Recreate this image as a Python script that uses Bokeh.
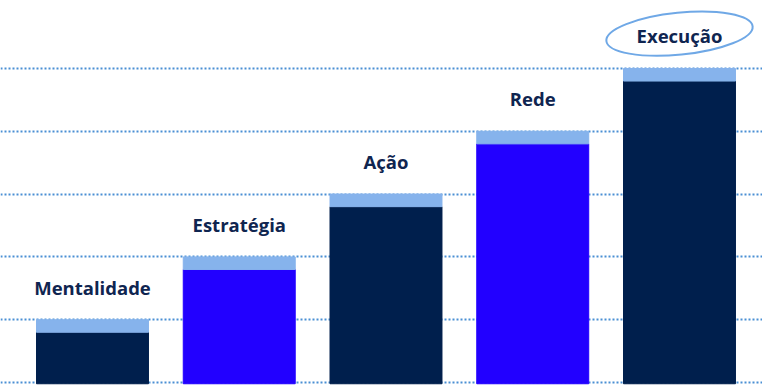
from bokeh.plotting import figure
from bokeh.models import ColumnDataSource, FixedTicker, Range1d
from bokeh.embed import file_html
from bokeh.resources import INLINE
from bokeh.core.properties import value

categories = ["Mentalidade", "Estratégia", "Ação", "Rede", "Execução"]
base_values = [0.8, 1.8, 2.8, 3.8, 4.8]
cap_values = [0.2, 0.2, 0.2, 0.2, 0.2]
bar_colors = ["#001f4d", "#2200ff", "#001f4d", "#2200ff", "#001f4d"]
grid_ticks = [0, 1, 2, 3, 4, 5]
highlight = "Execução"

xs = list(range(len(categories)))
totals = [b + c for b, c in zip(base_values, cap_values)]

src = ColumnDataSource(dict(
    x=xs, base=base_values, total=totals, color=bar_colors,
    label=categories, label_y=[t + 0.52 for t in totals],
))

p = figure(width=762, height=386, output_backend="svg", toolbar_location=None,
           x_range=Range1d(-0.6269, 4.5656), y_range=Range1d(-0.0637, 6.0828),
           min_border=0, outline_line_color=None)
p.axis.visible = False
p.xgrid.visible = False
p.ygrid.ticker = FixedTicker(ticks=grid_ticks)
p.ygrid.grid_line_color = "#4a8fd4"
p.ygrid.grid_line_width = 2
p.ygrid.grid_line_dash = "2 2"
p.background_fill_color = "white"
p.border_fill_color = "white"

p.vbar(x="x", top="base", bottom=-0.02, width=0.763, color="color", source=src)
p.vbar(x="x", top="total", bottom="base", width=0.763, color="#86b3ec", source=src)

p.text(x="x", y="label_y", text="label", source=src,
       text_font=value("Open Sans"), text_font_style="bold",
       text_font_size="18.5px", text_color="#0f2550",
       text_align="center", text_baseline="middle")

hi = categories.index(highlight)
p.ellipse(x=[xs[hi] + 0.0], y=[totals[hi] + 0.555], width=147, height=42,
          width_units="screen", height_units="screen", angle=0.1,
          fill_color=None, line_color="#6fa8e6", line_width=2)

open("out.html", "w").write(file_html(p, INLINE))
